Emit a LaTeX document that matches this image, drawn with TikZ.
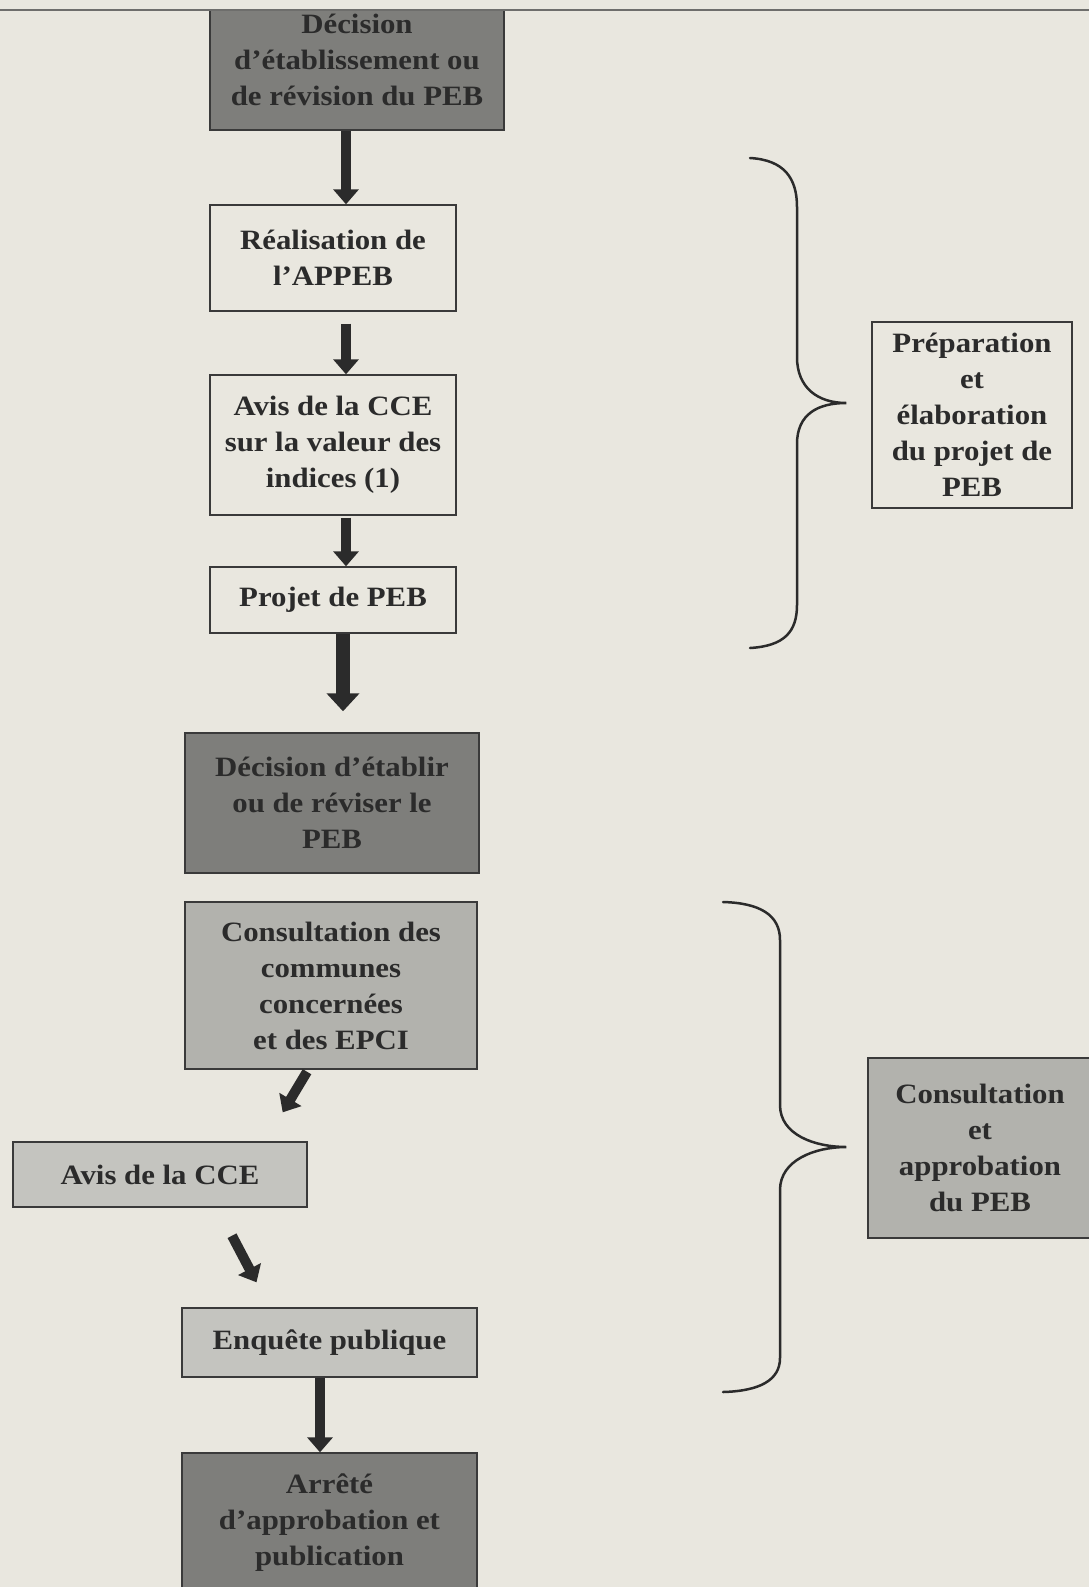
\documentclass[tikz,border=0pt]{standalone}
\usepackage{fontspec}
\setmainfont{Liberation Serif}[FakeStretch=1.1]
\usetikzlibrary{arrows.meta,calc}
\definecolor{paper}{HTML}{E9E7DF}
\definecolor{ink}{HTML}{2B2B2B}
\definecolor{edge}{HTML}{3A3A3A}
\definecolor{dark}{HTML}{7E7E7B}
\definecolor{mid}{HTML}{B2B2AD}
\definecolor{light}{HTML}{C4C4BF}
\definecolor{rule}{HTML}{6E6E6C}
\begin{document}
\begin{tikzpicture}[x=1pt,y=-1pt,
  box/.style={draw=edge, line width=1.4pt, text=ink, align=center, inner sep=0pt,
    font=\fontsize{28}{36}\selectfont\bfseries},
  arr/.style={draw=ink, line width=10pt, -{Triangle[width=25pt,length=15pt]}},
  bigarr/.style={draw=ink, line width=14pt, -{Triangle[width=32pt,length=18pt]}},
  bracestyle/.style={draw=ink, line width=2.5pt, line cap=round}]
\useasboundingbox[fill=paper] (0,0) rectangle (1089,1587);

% left column
\node[box, fill=dark, minimum width=294pt, minimum height=140pt] (b1) at (357,60)
  {Décision\\d’établissement ou\\de révision du PEB};
\fill[paper] (0,-20) rectangle (1089,9);
\draw[rule, line width=2pt] (0,10) -- (1089,10);

\node[box, fill=paper, minimum width=246pt, minimum height=106pt] (b2) at (333,258)
  {Réalisation de\\l’APPEB};
\node[box, fill=paper, minimum width=246pt, minimum height=140pt] (b3) at (333,445)
  {Avis de la CCE\\sur la valeur des\\indices (1)};
\node[box, fill=paper, minimum width=246pt, minimum height=66pt] (b4) at (333,600)
  {Projet de PEB};
\node[box, fill=dark, minimum width=294pt, minimum height=140pt] (b5) at (332,803)
  {Décision d’établir\\ou de réviser le\\PEB};
\node[box, fill=mid, minimum width=292pt, minimum height=167pt] (b6) at (331,985.5)
  {Consultation des\\communes\\concernées\\et des EPCI};
\node[box, fill=light, minimum width=294pt, minimum height=65pt] (b7) at (160,1174.5)
  {Avis de la CCE};
\node[box, fill=light, minimum width=295pt, minimum height=69pt] (b8) at (329.5,1342.5)
  {Enquête publique};
\node[box, fill=dark, minimum width=295pt, minimum height=140pt] (b9) at (329.5,1523)
  {Arrêté\\d’approbation et\\publication};

% right column
\node[box, fill=paper, minimum width=200pt, minimum height=186pt] (r1) at (972,415)
  {Préparation\\et\\élaboration\\du projet de\\PEB};
\node[box, fill=mid, minimum width=224pt, minimum height=180pt] (r2) at (980,1148)
  {Consultation\\et\\approbation\\du PEB};

% arrow anchors
\coordinate (xa) at (346,0);
\coordinate (xb) at (343,0);
\coordinate (xc) at (320,0);
\draw[arr] (b1.south -| xa) -- (b2.north -| xa);
\draw[arr, shorten <=12pt] (b2.south -| xa) -- (b3.north -| xa);
\draw[arr, shorten <=2pt] (b3.south -| xa) -- (b4.north -| xa);
\draw[bigarr, shorten >=21pt] (b4.south -| xb) -- (b5.north -| xb);
\coordinate (d1s) at ($(b6.south)+(-24,2)$);
\coordinate (d1e) at ($(b7.north east)+(-25,-29)$);
\draw[arr] (d1s) -- (d1e);
\coordinate (d2s) at ($(b7.south)+(72,28)$);
\coordinate (d2e) at ($(b8.north)+(-73,-25)$);
\draw[arr] (d2s) -- (d2e);
\draw[arr] (b8.south -| xc) -- (b9.north -| xc);

% braces
\coordinate (t1) at ($(r1.west)+(-25,-12)$);
\draw[bracestyle] (750,158) .. controls (784,160) and (797,178) .. (797,207)
  -- (797,357) .. controls (797,388) and (818,403) .. (t1)
  .. controls (818,403) and (797,414) .. (797,444)
  -- (797,605) .. controls (797,632) and (784,646) .. (750,648);
\coordinate (t2) at ($(r2.west)+(-21,-1)$);
\draw[bracestyle] (723,902) .. controls (760,903) and (780,915) .. (780,940)
  -- (780,1105) .. controls (780,1135) and (815,1147) .. (t2)
  .. controls (815,1147) and (780,1160) .. (780,1190)
  -- (780,1358) .. controls (780,1380) and (760,1391) .. (723,1392);
\end{tikzpicture}
\end{document}
